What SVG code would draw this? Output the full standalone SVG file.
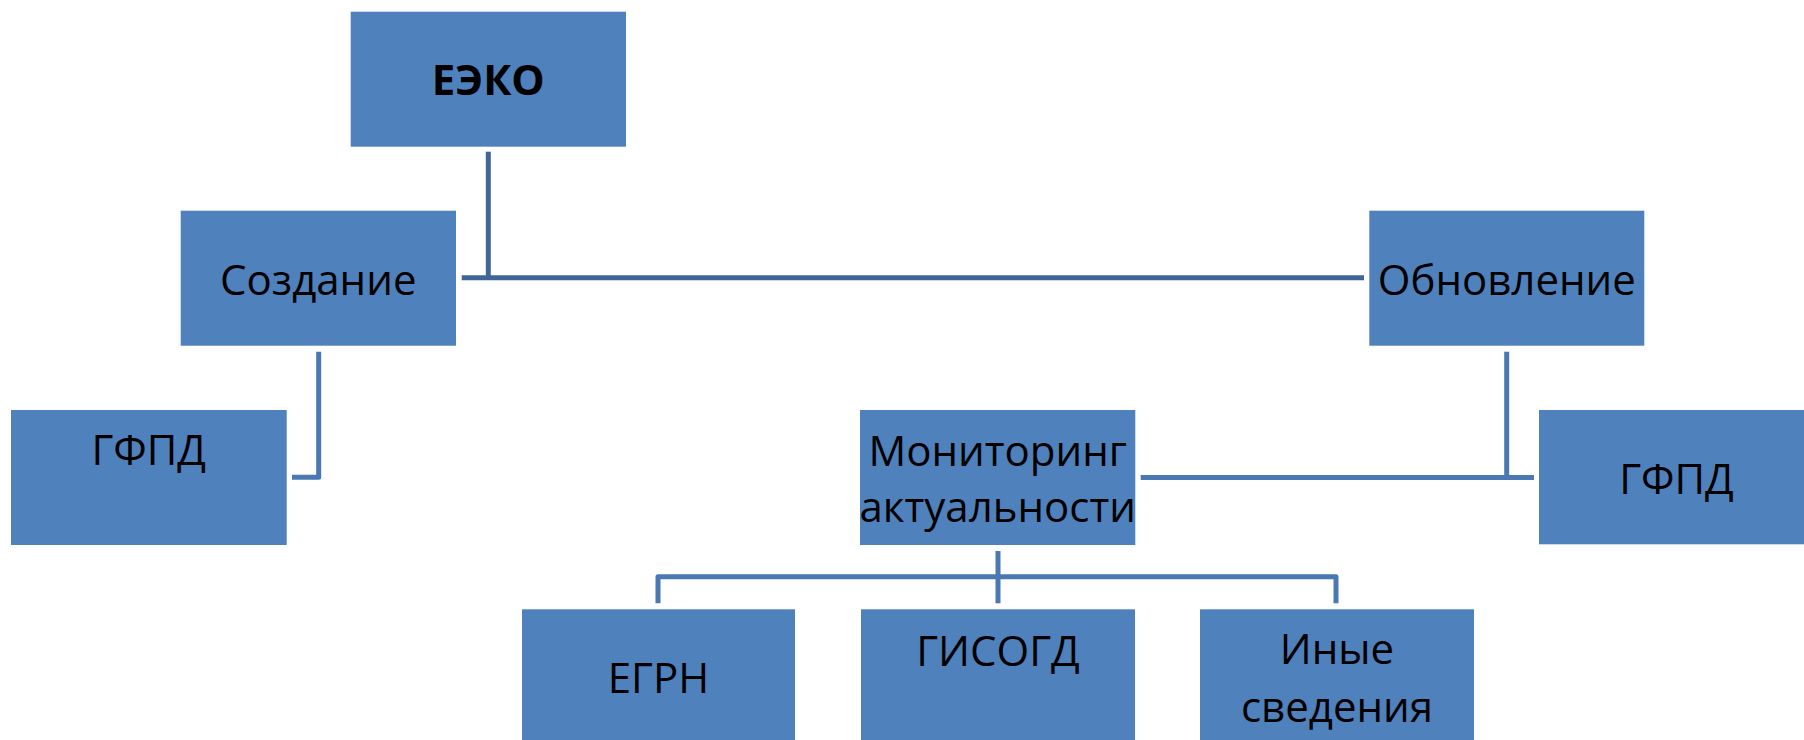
<svg xmlns="http://www.w3.org/2000/svg" width="1804" height="740" viewBox="0 0 1804 740">
<style>
.box{fill:#4F81BD}
.t{font-family:"Open Sans","Noto Sans","Liberation Sans",sans-serif;font-size:42px;fill:#000;text-anchor:middle}
.b{font-weight:bold}
.c{fill:none;stroke-width:5;stroke-linejoin:round}
.dk{stroke:#3F6696}
.lt{stroke:#4A78B2}
</style>
<rect width="1804" height="740" fill="#fff"/>
<g id="connectors">
<path class="c dk" d="M488.3 151.7V277.7"/>
<path class="c dk" d="M461.7 277.7H1364"/>
<path class="c lt" d="M318.7 351.7V477.3H292"/>
<path class="c lt" d="M1506.7 351.7V477.3"/>
<path class="c lt" d="M1140.7 477.5H1534"/>
<path class="c lt" d="M998 551V603.3"/>
<path class="c lt" d="M658 603.3V576.7H1336V603.3"/>
</g>
<g id="eeko"><rect class="box" x="350.7" y="11.7" width="275.3" height="135"/><text class="t b" x="488.3" y="95">ЕЭКО</text></g>
<g id="sozdanie"><rect class="box" x="180.7" y="210.7" width="275.3" height="135"/><text class="t" x="318.3" y="295">Создание</text></g>
<g id="obnovlenie"><rect class="box" x="1369.3" y="210.7" width="275" height="135"/><text class="t" x="1506.8" y="295">Обновление</text></g>
<g id="gfpd-left"><rect class="box" x="11" y="410" width="275.7" height="135"/><text class="t" x="148.8" y="465">ГФПД</text></g>
<g id="monitoring"><rect class="box" x="860" y="410" width="275.3" height="135"/><text class="t" x="997.7" y="466">Мониторинг</text><text class="t" x="997.7" y="521.7">актуальности</text></g>
<g id="gfpd-right"><rect class="box" x="1539" y="410" width="275" height="134.3"/><text class="t" x="1676.5" y="494">ГФПД</text></g>
<g id="egrn"><rect class="box" x="522" y="609.3" width="273" height="135"/><text class="t" x="658.5" y="692.7">ЕГРН</text></g>
<g id="gisogd"><rect class="box" x="861" y="609.3" width="274" height="135"/><text class="t" x="998" y="665.7">ГИСОГД</text></g>
<g id="inye"><rect class="box" x="1200" y="609.3" width="274" height="135"/><text class="t" x="1337" y="664">Иные</text><text class="t" x="1337" y="721.7">сведения</text></g>
</svg>
